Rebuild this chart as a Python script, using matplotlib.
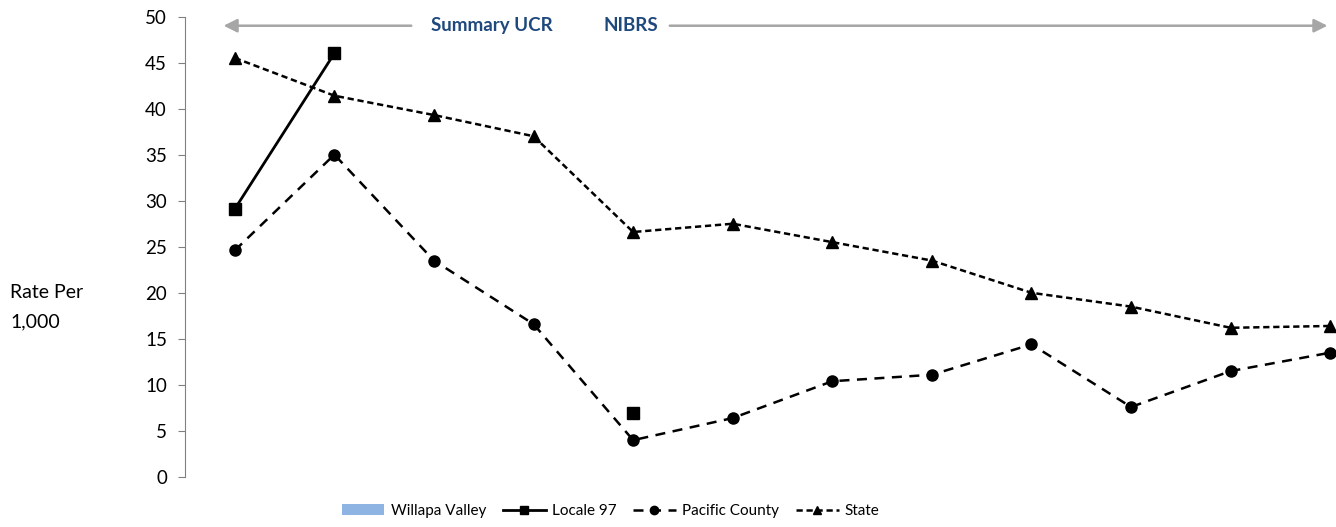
import numpy as np
import matplotlib
matplotlib.use("Agg")
import matplotlib.pyplot as plt

plt.rcParams['font.family'] = ['Lato', 'DejaVu Sans']

# Twelve reporting years, no tick labels shown on the chart
years = list(range(12))

willapa = [np.nan] * 12
locale97 = [29.1, 46.0, np.nan, np.nan, 6.9, np.nan, np.nan, np.nan, np.nan, np.nan, np.nan, np.nan]
pacific = [24.6, 35.0, 23.5, 16.6, 4.0, 6.4, 10.4, 11.1, 14.4, 7.6, 11.5, 13.5]
state = [45.5, 41.4, 39.3, 37.0, 26.6, 27.5, 25.5, 23.5, 20.0, 18.5, 16.2, 16.4]

fig = plt.figure(figsize=(13.36, 5.27), dpi=100)
# axes runs past the right edge, as in the reference crop
ax = fig.add_axes([185 / 1336, 50 / 527, 1195 / 1336, 460.5 / 527])

x = np.arange(len(years))
h0 = ax.bar(x, np.nan_to_num(willapa), 0.6, color='#8EB4E3', label='Willapa Valley')
h1, = ax.plot(x, locale97, color='black', lw=2, marker='s', ms=8, label='Locale 97')
h2, = ax.plot(x, pacific, color='black', lw=1.8, ls=(0, (4, 3)), marker='o', ms=8, label='Pacific County')
h3, = ax.plot(x, state, color='black', lw=1.8, ls=(0, (2.5, 1.5)), marker='^', ms=8, label='State')

ax.set_xlim(-0.5, 11.5)
ax.set_ylim(0, 50)
ax.set_yticks(np.arange(0, 51, 5))
ax.set_xticks([])
for s in ['top', 'right', 'bottom']:
    ax.spines[s].set_visible(False)
ax.spines['left'].set_color('#808080')
ax.tick_params(axis='y', length=5, color='#808080', labelsize=13.5, pad=8)

# era arrows
arrow = dict(arrowstyle='-|>', color='#A6A6A6', lw=1.8, mutation_scale=20)
ax.annotate('', xy=(-0.14, 49), xytext=(1.8, 49), arrowprops=arrow, annotation_clip=False)
ax.annotate('', xy=(11.0, 49), xytext=(4.34, 49), arrowprops=arrow, annotation_clip=False)
ax.text(2.58, 49, 'Summary UCR', ha='center', va='center', fontsize=13.5,
        fontweight='bold', color='#1F497D')
ax.text(3.98, 49, 'NIBRS', ha='center', va='center', fontsize=13.5,
        fontweight='bold', color='#1F497D')

fig.text(10 / 1336, 1 - 307 / 527, 'Rate Per\n1,000', ha='left', va='center',
         fontsize=14, linespacing=1.9)

fig.legend([h0, h1, h2, h3], ['Willapa Valley', 'Locale 97', 'Pacific County', 'State'],
           loc='center', bbox_to_anchor=(0.457, 1 - 511 / 527), ncol=4, frameon=False,
           fontsize=11, handlelength=2.8, columnspacing=1.1, handletextpad=0.4,
           markerscale=0.75)

fig.savefig('out.png', dpi=100)
